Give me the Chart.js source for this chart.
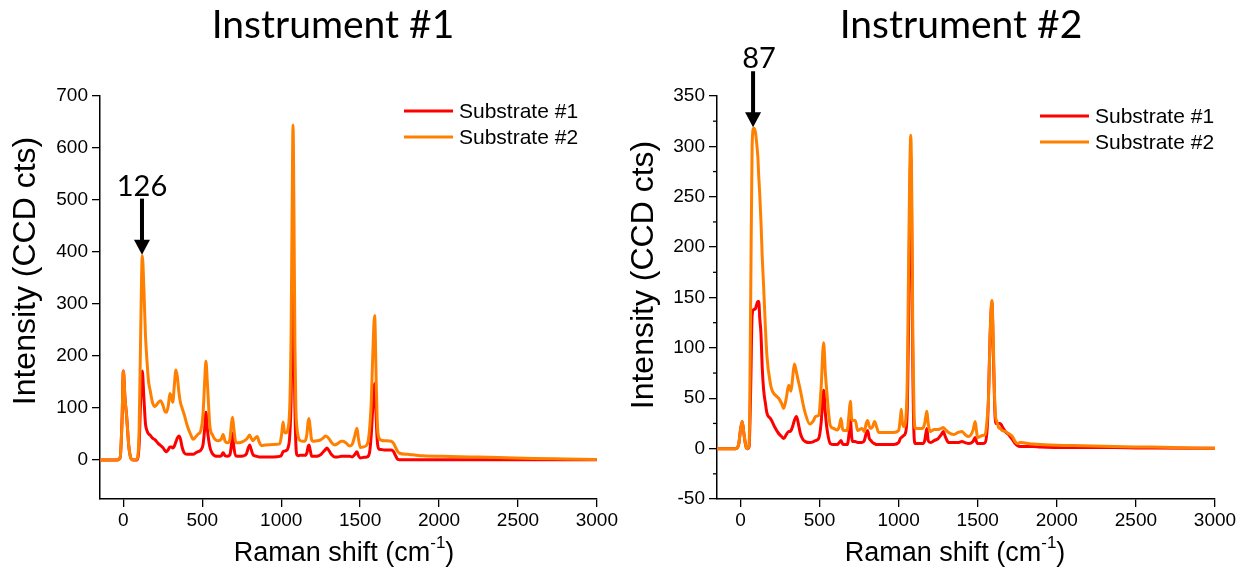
<!DOCTYPE html>
<html>
<head>
<meta charset="utf-8">
<script src="https://cdn.jsdelivr.net/npm/chart.js@4"></script>
<style>
  body { margin: 0; background: #fff; }
  #wrap { position: relative; width: 1239px; height: 568px; }
  canvas { position: absolute; top: 0; }
</style>
</head>
<body>
<div id="wrap">
  <canvas id="c1" width="620" height="568" style="left:0"></canvas>
  <canvas id="c2" width="619" height="568" style="left:620px"></canvas>
</div>
<script>
// spectra (Raman shift, counts)
const inst1Shift = [-148,-40,-20,-8,0,10,21,35,50,62,85,100,110,120,130,140,148,160,169,185,200,220,235,250,264,274,285,295,305,313,322,333,342,352,362,372,385,405,425,443,460,474,490,505,515,523,532,548,565,580,600,620,632,645,660,675,685,692,700,713,735,760,780,790,800,810,822,835,848,860,875,900,950,991,1003,1012,1020,1030,1043,1055,1063,1069,1075,1081,1087,1093,1099,1110,1118,1135,1150,1163,1170,1176,1183,1192,1202,1225,1244,1265,1280,1290,1305,1320,1339,1360,1380,1391,1410,1434,1450,1465,1480,1490,1502,1520,1545,1560,1571,1580,1592,1602,1608,1613,1625,1634,1660,1697,1712,1725,1739,1750,1800,1834,1900,2019,2200,2374,2600,2800,3000];
const inst1Sub1 = [0,0,5,80,171,120,83,25,2,0,0,30,120,171,120,70,58,50,48,42,39,32,28,24,18,16,20,25,25,23,26,35,42,46,40,25,14,11,11,11,14,16,19,30,60,92,60,25,12,8,7,8,14,8,7,10,30,52,25,8,7,8,12,22,29,20,10,8,7,6,6,6,6,7,10,16,17,18,23,50,120,250,342,230,100,30,10,8,9,9,9,14,25,29,20,8,7,7,9,15,20,23,17,10,6,6,7,7,7,7,6,10,16,8,4,5,6,15,50,100,147,80,40,26,20,20,19,19,16,8,1,0.5,0.5,0.5,0.5,0.5,0.5,0.5,0.3,0.3,0.3];
const inst1Sub2 = [0,0,5,80,171,120,83,25,2,0,1,60,250,393,330,240,198,150,135,110,103,110,114,106,93,92,105,128,120,111,140,173,160,130,110,100,88,66,50,40,45,50,56,90,150,190,150,66,48,40,37,40,49,36,33,40,70,82,60,34,33,36,40,44,48,42,37,42,45,35,28,29,30,31,50,73,55,52,60,110,250,470,644,470,220,100,64,42,38,36,36,50,72,80,64,40,36,37,38,42,46,45,40,33,29,32,36,36,33,27,30,45,61,40,24,25,30,60,115,200,278,150,80,52,40,38,37,36,32,24,16,13,11,10,8,7,6,5,3,2,1];

const inst2Shift = [-148,-30,-10,0,11,22,35,45,55,65,74,84,95,101,110,116,122,130,138,147,158,168,189,200,215,242,260,274,290,305,315,320,330,341,354,362,379,395,410,438,463,474,495,510,526,537,547,568,590,611,625,636,645,653,675,687,695,703,709,726,741,768,783,795,804,815,825,836,848,860,874,920,968,1000,1011,1017,1024,1032,1042,1055,1063,1070,1077,1084,1090,1097,1105,1125,1150,1165,1172,1179,1187,1200,1225,1250,1270,1282,1295,1316,1347,1375,1400,1420,1442,1470,1484,1492,1499,1530,1547,1560,1568,1578,1590,1598,1606,1613,1621,1632,1642,1655,1674,1695,1705,1720,1737,1750,1768,1850,1895,2100,2358,2600,3000];
const inst2Sub1 = [0,0,5,18,27,15,2,0,2,60,132,138,139,142,146,146,130,114,80,58,45,35,30,27,22,15,12,10,14,17,17,18,22,28,32,28,15,9,7,6,7,8,10,25,58,35,20,5,4,4,6,8,5,4,4,15,30,12,7,7,6,6,8,15,18,10,8,6,5,4,4,4,4,6,10,11,12,13,15,40,120,230,290,200,80,15,5,5,5,8,15,20,8,6,8,10,14,17,12,6,6,6,7,6,5,7,11,7,5,5,6,20,50,110,145,100,50,25,25,25,25,22,17,14,12,9,5,3,2,2,1.5,1,1,0.5,0.3];
const inst2Sub2 = [0,0,5,18,27,15,2,0,5,150,300,318,314,306,290,270,253,225,190,160,120,91,65,58,54,50,45,40,50,63,59,57,70,84,76,70,58,45,35,24.5,28,32,33,60,105,75,55,23,20,18.5,22,30,20,18,18,35,47,30,28,28,18,20,17,25,28,22,20,22,27,22,16,16,16,18,30,39,26,22,25,70,180,270,311,240,110,40,20,20,20,25,32,37,25,17,19,19,20,21,19,16,14,16,17,14,12,18,27,18,11,13,14,30,48,110,147,110,55,32,27,21,20,18,17,15,14,12,7,5,6,4.5,4,3,2,1.5,0.3];

const shiftTicks = [0, 500, 1000, 1500, 2000, 2500, 3000];
const inst1Ticks = [0, 100, 200, 300, 400, 500, 600, 700];
const inst2Ticks = [-50, 0, 50, 100, 150, 200, 250, 300, 350];
const inst2Minor = [-25, 25, 75, 125, 175, 225, 275, 325];
const seriesNames = ['Substrate #1', 'Substrate #2'];
const seriesColors = ['#ff0000', '#ff8000'];

const TICK_FONT = { family: 'Liberation Sans, Arial, sans-serif', size: 19 };

function pts(xs, ys) { return xs.map((x, i) => ({ x: x, y: ys[i] })); }

// titles, legend, arrow and minor ticks
const decor = {
  id: 'decor',
  afterDraw(chart, args, o) {
    const ctx = chart.ctx;
    const xs = chart.scales.x, ys = chart.scales.y;
    ctx.save();
    ctx.fillStyle = '#000';
    ctx.strokeStyle = '#000';

    ctx.font = '39px Lato, sans-serif';
    ctx.textAlign = 'center';
    ctx.textBaseline = 'alphabetic';
    ctx.fillText(o.title, o.titleX, 38);

    // y title
    ctx.save();
    ctx.translate(o.yTitleX, o.yTitleY);
    ctx.rotate(-Math.PI / 2);
    ctx.font = '32px Liberation Sans, Arial, sans-serif';
    ctx.textBaseline = 'middle';
    ctx.fillText('Intensity (CCD cts)', 0, 0);
    ctx.restore();

    // x title with superscript
    const big = '27px Liberation Sans, Arial, sans-serif';
    const small = '17px Liberation Sans, Arial, sans-serif';
    ctx.textAlign = 'left';
    ctx.font = big;
    const a = 'Raman shift (cm', c = ')';
    const wa = ctx.measureText(a).width, wc = ctx.measureText(c).width;
    ctx.font = small;
    const wb = ctx.measureText('-1').width;
    let x0 = o.xTitleX - (wa + wb + wc) / 2;
    ctx.font = big;
    ctx.fillText(a, x0, 561);
    ctx.font = small;
    ctx.fillText('-1', x0 + wa, 548);
    ctx.font = big;
    ctx.fillText(c, x0 + wa + wb, 561);

    // legend
    ctx.font = '21px Liberation Sans, Arial, sans-serif';
    ctx.textBaseline = 'middle';
    chart.data.datasets.forEach((d, i) => {
      const y = o.legendY + i * 26;
      ctx.strokeStyle = d.borderColor;
      ctx.lineWidth = 3;
      ctx.beginPath();
      ctx.moveTo(o.legendX, y);
      ctx.lineTo(o.legendX + 49, y);
      ctx.stroke();
      ctx.fillStyle = '#000';
      ctx.fillText(d.label, o.legendX + 55, y + 1);
    });

    // arrow to the peak
    const px = xs.getPixelForValue(o.arrowAt[0]);
    const tip = ys.getPixelForValue(o.arrowAt[1]) - 1;
    ctx.fillStyle = '#000';
    ctx.fillRect(px - 2, tip - 56, 4, 42);
    ctx.beginPath();
    ctx.moveTo(px - 8, tip - 15);
    ctx.lineTo(px + 8, tip - 15);
    ctx.lineTo(px, tip);
    ctx.closePath();
    ctx.fill();
    ctx.font = '29px Lato, sans-serif';
    ctx.textAlign = 'center';
    ctx.textBaseline = 'alphabetic';
    ctx.fillText(o.arrowLabel, px + o.labelDx, tip - 59);

    // minor ticks
    if (o.minor) {
      ctx.strokeStyle = '#000';
      ctx.lineWidth = 1.3;
      o.minor.forEach(v => {
        const y = ys.getPixelForValue(v);
        ctx.beginPath();
        ctx.moveTo(chart.chartArea.left - 4, y);
        ctx.lineTo(chart.chartArea.left, y);
        ctx.stroke();
      });
    }
    ctx.restore();
  }
};

function makeChart(id, xs, s1, s2, yTicks, yMin, yMax, pad, yWidth, deco) {
  return new Chart(document.getElementById(id), {
    type: 'line',
    data: {
      datasets: [
        { label: seriesNames[0], data: pts(xs, s1), borderColor: seriesColors[0], borderWidth: 3, pointRadius: 0, cubicInterpolationMode: 'monotone', tension: 0.4, order: 2 },
        { label: seriesNames[1], data: pts(xs, s2), borderColor: seriesColors[1], borderWidth: 3, pointRadius: 0, cubicInterpolationMode: 'monotone', tension: 0.4, order: 1 }
      ]
    },
    options: {
      responsive: false,
      animation: false,
      devicePixelRatio: 1,
      layout: { padding: pad, autoPadding: false },
      plugins: { legend: { display: false }, tooltip: { enabled: false }, decor: deco },
      scales: {
        x: {
          type: 'linear', min: -148, max: 3000,
          afterBuildTicks: s => { s.ticks = shiftTicks.map(v => ({ value: v })); },
          afterFit: s => { s.height = 69; },
          ticks: { font: TICK_FONT, color: '#000', padding: 2, maxRotation: 0, callback: v => String(v) },
          grid: { drawOnChartArea: false, drawTicks: true, tickLength: 8, color: '#000', lineWidth: 1.3 },
          border: { color: '#000', width: 1.5 }
        },
        y: {
          type: 'linear', min: yMin, max: yMax,
          afterBuildTicks: s => { s.ticks = yTicks.map(v => ({ value: v })); },
          afterFit: s => { s.width = yWidth; },
          ticks: { font: TICK_FONT, color: '#000', padding: 4, callback: v => String(v) },
          grid: { drawOnChartArea: false, drawTicks: true, tickLength: 8, color: '#000', lineWidth: 1.3 },
          border: { color: '#000', width: 1.5 }
        }
      }
    },
    plugins: [decor]
  });
}

makeChart('c1', inst1Shift, inst1Sub1, inst1Sub2, inst1Ticks, -75, 700,
  { top: 96, right: 22, left: 0, bottom: 0 }, 100,
  { title: 'Instrument #1', titleX: 333, yTitleX: 26, yTitleY: 271, xTitleX: 344,
    legendX: 404, legendY: 111, arrowAt: [118, 393], arrowLabel: '126', labelDx: 0 });

makeChart('c2', inst2Shift, inst2Sub1, inst2Sub2, inst2Ticks, -50, 350,
  { top: 96, right: 24, left: 0, bottom: 0 }, 97,
  { title: 'Instrument #2', titleX: 341, yTitleX: 24, yTitleY: 275, xTitleX: 335,
    legendX: 420, legendY: 116, arrowAt: [80, 318], arrowLabel: '87', labelDx: 6, minor: inst2Minor });
</script>
</body>
</html>
